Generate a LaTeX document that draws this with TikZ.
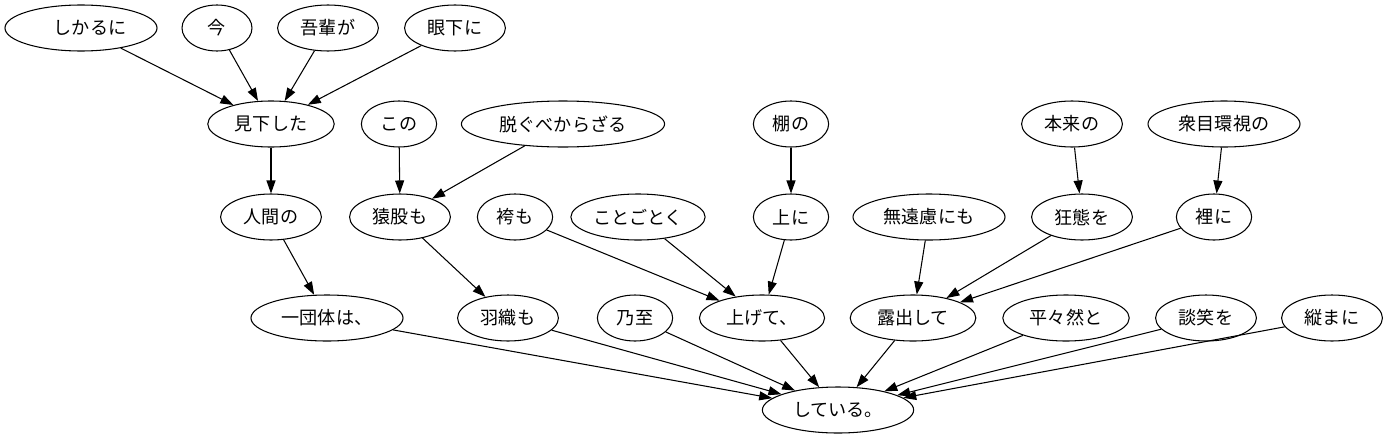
\documentclass[tikz,border=0pt]{standalone}
\usepackage{fontspec}
\setmainfont{Noto Sans CJK JP}
\usepackage{tikz}
\usetikzlibrary{shapes.geometric,arrows.meta}

\tikzset{
	bun/.style={ellipse, draw, line width=0.6pt, inner xsep=0.17cm, minimum width=1.4cm, minimum height=0.92cm, font=\fontsize{10.3}{12}\selectfont},
	dep/.style={line width=0.6pt, -{Triangle[length=0.26cm,width=0.18cm]}}
}

\begin{document}
\begin{tikzpicture}
	\useasboundingbox (0,0) rectangle (27.78,-8.86);
	% row 1
	\node[bun] (shikaru) at (1.62,-0.56) {　しかるに};
	\node[bun] (ima) at (4.34,-0.56) {今};
	\node[bun] (wagahai) at (6.56,-0.56) {吾輩が};
	\node[bun] (ganka) at (9.10,-0.56) {眼下に};
	% row 2
	\node[bun] (mioroshi) at (5.42,-2.48) {見下した};
	\node[bun] (kono) at (7.98,-2.48) {この};
	\node[bun] (nugu) at (11.26,-2.48) {脱ぐべからざる};
	\node[bun] (tana) at (15.82,-2.48) {棚の};
	\node[bun] (honrai) at (21.44,-2.48) {本来の};
	\node[bun] (shumoku) at (24.48,-2.48) {衆目環視の};
	% row 3
	\node[bun] (ningen) at (5.42,-4.34) {人間の};
	\node[bun] (sarumata) at (8.00,-4.34) {猿股も};
	\node[bun] (hakama) at (10.30,-4.34) {袴も};
	\node[bun, inner xsep=0.05cm] (kotogoto) at (12.76,-4.34) {ことごとく};
	\node[bun] (ueni) at (15.82,-4.34) {上に};
	\node[bun] (buenryo) at (18.58,-4.34) {無遠慮にも};
	\node[bun] (kyotai) at (21.64,-4.34) {狂態を};
	\node[bun] (uchini) at (24.28,-4.34) {裡に};
	% row 4
	\node[bun] (ichidan) at (6.54,-6.36) {一団体は、};
	\node[bun] (haori) at (10.16,-6.36) {羽織も};
	\node[bun] (naishi) at (12.70,-6.36) {乃至};
	\node[bun] (agete) at (15.24,-6.36) {上げて、};
	\node[bun] (roshutsu) at (18.26,-6.36) {露出して};
	\node[bun] (heihei) at (21.32,-6.36) {平々然と};
	\node[bun] (dansho) at (24.12,-6.36) {談笑を};
	\node[bun] (hoshii) at (26.64,-6.36) {縦まに};
	% root
	\node[bun] (shiteiru) at (16.76,-8.20) {している。};

	\foreach \a in {shikaru,ima,wagahai,ganka}
		\draw[dep] (\a) -- (mioroshi);
	\draw[dep] (mioroshi) -- (ningen);
	\draw[dep] (ningen) -- (ichidan);
	\foreach \a in {kono,nugu}
		\draw[dep] (\a) -- (sarumata);
	\draw[dep] (sarumata) -- (haori);
	\draw[dep] (tana) -- (ueni);
	\foreach \a in {hakama,kotogoto,ueni}
		\draw[dep] (\a) -- (agete);
	\draw[dep] (honrai) -- (kyotai);
	\draw[dep] (shumoku) -- (uchini);
	\foreach \a in {buenryo,kyotai,uchini}
		\draw[dep] (\a) -- (roshutsu);
	\foreach \a in {ichidan,haori,naishi,agete,roshutsu,heihei,dansho,hoshii}
		\draw[dep] (\a) -- (shiteiru);
\end{tikzpicture}
\end{document}
